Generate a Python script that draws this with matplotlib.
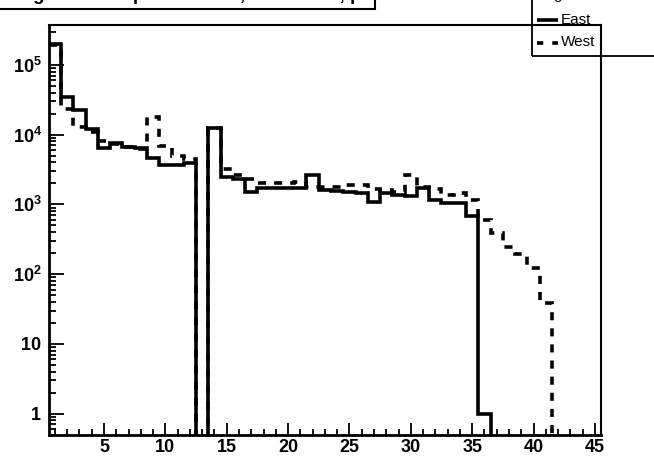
import numpy as np
import matplotlib
matplotlib.use("Agg")
import matplotlib.pyplot as plt
from matplotlib.patches import Rectangle
from matplotlib.lines import Line2D
from matplotlib.ticker import MultipleLocator, LogLocator, NullFormatter

# ---------------- data ----------------
x_low, x_high = 0.5, 45.5
n_bins = 45
east = [2.0e5, 3.5e4, 2.26e4, 1.2e4, 6.4e3, 7.5e3, 6.6e3, 6.5e3, 4.6e3, 3.7e3,
        3.7e3, 3.95e3, 0, 1.25e4, 2.5e3, 2.3e3, 1.52e3, 1.7e3, 1.7e3, 1.7e3,
        1.72e3, 2.64e3, 1.6e3, 1.57e3, 1.52e3, 1.44e3, 1.09e3, 1.44e3, 1.37e3, 1.3e3,
        1.7e3, 1.15e3, 1.03e3, 1.03e3, 680, 1, 0, 0, 0, 0,
        0, 0, 0, 0, 0]
west = [1.9e5, 2.3e4, 1.3e4, 1.1e4, 8.2e3, 7.3e3, 6.6e3, 6.3e3, 1.8e4, 6.9e3,
        4.9e3, 4.5e3, 0, 1.25e4, 3.2e3, 2.6e3, 2.3e3, 2.05e3, 2.05e3, 2.05e3,
        2.1e3, 1.8e3, 1.8e3, 1.75e3, 1.9e3, 1.9e3, 1.65e3, 1.6e3, 1.5e3, 2.65e3,
        1.75e3, 1.64e3, 1.36e3, 1.46e3, 1.15e3, 600, 384, 247, 192, 121,
        38, 0, 0, 0, 0]
x_ticks = [5, 10, 15, 20, 25, 30, 35, 40, 45]
x_tick_labels = ["5", "10", "15", "20", "25", "30", "35", "40", "45"]
y_ticks = [1, 10, 100, 1e3, 1e4, 1e5]
y_tick_labels = [r"$\mathbf{1}$", r"$\mathbf{10}$", r"$\mathbf{10^{2}}$",
                 r"$\mathbf{10^{3}}$", r"$\mathbf{10^{4}}$", r"$\mathbf{10^{5}}$"]
series_labels = ["East", "West"]
legend_header = "Legend"
title_text = "Single hit rate per detector, East/West, p"

# ---------------- style ----------------
plt.rcParams["font.family"] = ["Liberation Sans", "DejaVu Sans"]
plt.rcParams["mathtext.fontset"] = "custom"
plt.rcParams["mathtext.rm"] = "Liberation Sans"
plt.rcParams["mathtext.bf"] = "Liberation Sans:bold"
plt.rcParams["lines.scale_dashes"] = False

W, H = 654, 457
fig = plt.figure(figsize=(W / 100, H / 100), dpi=100)
fig.patch.set_facecolor("white")

def fx(px):
    return px / W

def fy(py):
    return 1 - py / H

left_px, right_px, top_px, bottom_px = 48.8, 601.0, 24.5, 434.5
ax = fig.add_axes([fx(left_px), fy(bottom_px), fx(right_px - left_px), (bottom_px - top_px) / H])

edges = np.linspace(x_low, x_high, n_bins + 1)
ax.stairs(east, edges, baseline=None, color="black", lw=2.6, joinstyle="miter", capstyle="butt")
ax.stairs(west, edges, baseline=None, color="black", lw=2.6, linestyle=(0, (5.8, 5.8)),
          joinstyle="miter", capstyle="butt")

ax.set_yscale("log")
ax.set_xlim(x_low, x_high)
ax.set_ylim(0.5, 3.8e5)

ax.set_xticks(x_ticks, x_tick_labels)
ax.xaxis.set_minor_locator(MultipleLocator(1))
ax.set_yticks(y_ticks, y_tick_labels)
ax.yaxis.set_minor_locator(LogLocator(base=10, subs=np.arange(2, 10)))
ax.yaxis.set_minor_formatter(NullFormatter())

ax.tick_params(which="both", direction="in", top=False, right=False, color="black")
ax.tick_params(axis="x", which="major", length=8.6, width=1.3, pad=3.5, labelsize=13)
ax.tick_params(axis="x", which="minor", length=4.5, width=1.3)
ax.tick_params(axis="y", which="major", length=10.8, width=1.3, pad=5, labelsize=13)
ax.tick_params(axis="y", which="minor", length=5.0, width=1.3)
for lab in ax.get_xticklabels():
    lab.set_fontweight("bold")

for s in ["left", "bottom"]:
    ax.spines[s].set_linewidth(2.0)
for s in ["top", "right"]:
    ax.spines[s].set_linewidth(1.5)

# ---------------- title box (cut off at the top) ----------------
fig.add_artist(Rectangle((fx(-5), fy(9)), fx(380), 40 / H, transform=fig.transFigure,
                         facecolor="white", edgecolor="black", lw=1.5, clip_on=False, zorder=5))
fig.text(fx(4), fy(0.5), title_text, fontsize=13.5, fontweight="bold", ha="left",
         va="baseline", zorder=6)

# ---------------- legend (transparent, cut off) ----------------
fig.add_artist(Rectangle((fx(532), fy(56)), fx(140), 70 / H, transform=fig.transFigure,
                         facecolor="none", edgecolor="black", lw=1.3, clip_on=False, zorder=5))
fig.text(fx(538), fy(-0.5), legend_header, fontsize=11, ha="left", va="baseline", zorder=6)
fig.add_artist(Line2D([fx(537), fx(558)], [fy(20), fy(20)], transform=fig.transFigure,
                      color="black", lw=2.6, solid_capstyle="butt", zorder=6))
fig.add_artist(Line2D([fx(537), fx(558)], [fy(42.5), fy(42.5)], transform=fig.transFigure,
                      color="black", lw=2.6, linestyle=(0, (4.5, 6.5)), dash_capstyle="butt", zorder=6))
fig.text(fx(561), fy(20), series_labels[0], fontsize=11, ha="left", va="center", zorder=6)
fig.text(fx(561), fy(42.5), series_labels[1], fontsize=11, ha="left", va="center", zorder=6)

fig.savefig("out.png", dpi=100, facecolor="white")
